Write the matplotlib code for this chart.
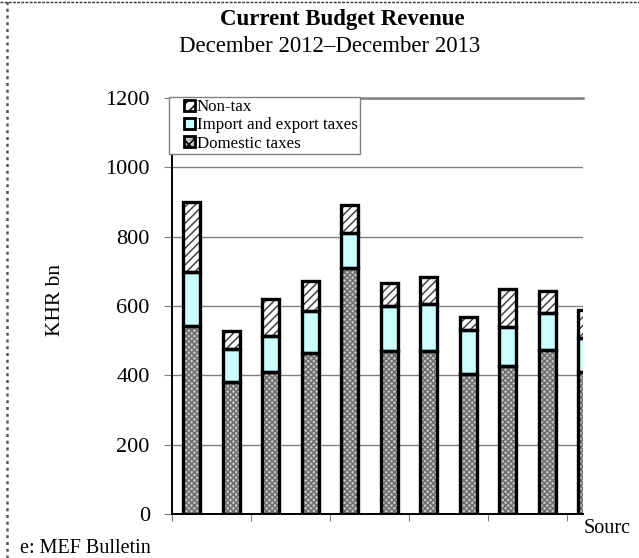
import numpy as np
import matplotlib
matplotlib.use('Agg')
import matplotlib.pyplot as plt
from matplotlib.patches import Patch, Rectangle
from matplotlib.legend_handler import HandlerPatch
from matplotlib.lines import Line2D

# monthly current revenue, KHR bn
months = ['Dec-12', 'Jan-13', 'Feb-13', 'Mar-13', 'Apr-13', 'May-13',
          'Jun-13', 'Jul-13', 'Aug-13', 'Sep-13', 'Oct-13']
domestic = [542, 381, 410, 463, 710, 471, 470, 403, 427, 472, 410]
imports = [157, 94, 103, 123, 102, 129, 135, 128, 112, 107, 98]
nontax = [200, 52, 107, 85, 80, 65, 79, 38, 111, 64, 80]
yticks = [0, 200, 400, 600, 800, 1000, 1200]

plt.rcParams['font.family'] = ['Liberation Serif', 'DejaVu Serif']
plt.rcParams['hatch.linewidth'] = 1.1

fig = plt.figure(figsize=(6.39, 5.58), dpi=100)
ax = fig.add_axes([172 / 639, 44 / 558, 411 / 639, 416 / 558])

x = np.arange(len(months))
w = 0.43
dom = np.array(domestic)
imp = np.array(imports)
non = np.array(nontax)

# fills first (hatch colour follows edgecolor), black outlines on top
ax.bar(x, dom, w, color='#c4c4c4', hatch='xxxxxx', edgecolor='#6e6e6e', linewidth=0, zorder=2)
ax.bar(x, imp, w, bottom=dom, color='#ccffff', linewidth=0, zorder=2)
ax.bar(x, non, w, bottom=dom + imp, color='white', hatch='////', edgecolor='#444444', linewidth=0, zorder=2)
for vals, bot in [(dom, 0), (imp, dom), (non, dom + imp)]:
    ax.bar(x, vals, w, bottom=bot, fill=False, edgecolor='black', linewidth=2.4, zorder=3)

ax.set_xlim(-0.5, 9.9)
ax.set_ylim(0, 1200)
ax.set_yticks(yticks)
ax.tick_params(axis='y', labelsize=16, length=6, color='#808080', pad=10)
ax.set_xticks(np.arange(-0.5, 10, 2))
ax.set_xticklabels([])
ax.tick_params(axis='x', length=5, color='#808080')
ax.yaxis.grid(True, color='#808080', linewidth=1)
ax.set_axisbelow(True)

for s in ['left', 'bottom']:
    ax.spines[s].set_color('black')
    ax.spines[s].set_linewidth(1.4)
ax.spines['right'].set_visible(False)
ax.spines['top'].set_color('#808080')
ax.spines['top'].set_linewidth(1.8)


# small square key pushed to the right end of the handle box
def square_key(legend, orig_handle, xdescent, ydescent, width, height, fontsize):
    return Rectangle((-xdescent + width - height, -ydescent), height, height)


handles = [
    Patch(facecolor='white', hatch='///', edgecolor='black', linewidth=2),
    Patch(facecolor='#ccffff', edgecolor='black', linewidth=2),
    Patch(facecolor='#c4c4c4', hatch='xxx', edgecolor='black', linewidth=2),
]
leg = fig.legend(handles, ['Non-tax', 'Import and export taxes', 'Domestic taxes'],
                 loc='upper left', bbox_to_anchor=(169 / 639, 1 - 97 / 558),
                 bbox_transform=fig.transFigure, fontsize=12.2, frameon=True,
                 fancybox=False, framealpha=1, edgecolor='#808080',
                 handlelength=1.4, handleheight=0.62, handletextpad=0.12,
                 labelspacing=0.14, borderpad=0.12, borderaxespad=0,
                 handler_map={Patch: HandlerPatch(patch_func=square_key)})
leg.get_frame().set_linewidth(1)

fig.text(342 / 639, 1 - 19 / 558, 'Current Budget Revenue', ha='center', va='center',
         fontsize=16.5, fontweight='bold')
fig.text(330 / 639, 1 - 47 / 558, 'December 2012\u2013December 2013', ha='center',
         va='center', fontsize=16.5)
fig.text(56 / 639, 1 - 300 / 558, 'KHR bn', rotation=90, ha='center', va='center',
         fontsize=15.5)
fig.text(584 / 639, 1 - 533 / 558, 'Sourc', ha='left', va='baseline', fontsize=14.5)
fig.text(20 / 639, 1 - 553 / 558, 'e: MEF Bulletin', ha='left', va='baseline', fontsize=14.5)

# dotted frame along the top and left edges
fig.add_artist(Line2D([0, 1], [1 - 2 / 558] * 2, color='#333333', linestyle=(0, (2, 1)),
                      linewidth=1, transform=fig.transFigure))
fig.add_artist(Line2D([7 / 639] * 2, [0, 1], color='#555555', linestyle=(0, (1.2, 1.5)),
                      linewidth=1.8, transform=fig.transFigure))

fig.savefig('out.png', dpi=100)
